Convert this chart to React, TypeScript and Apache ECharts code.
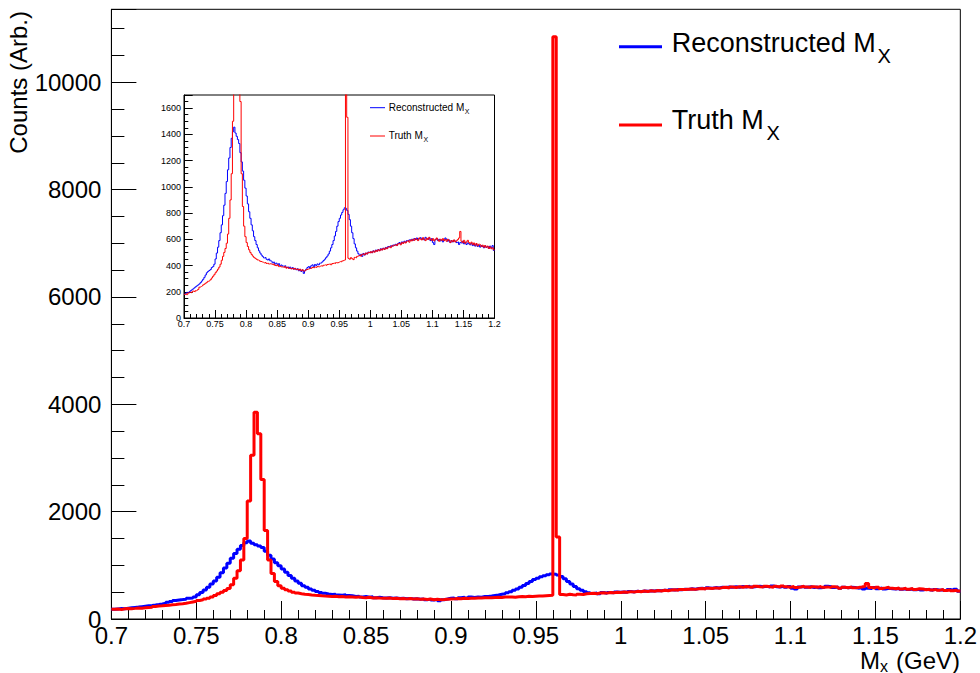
import React, { useEffect, useRef } from "react";
import * as echarts from "echarts";

// Histogram binning (GeV)
const BIN_START = 0.7;
const BIN_WIDTH = 0.002;

// Reconstructed M_X counts per bin (250 bins, 0.700 - 1.200 GeV)
const RECO: number[] = [
  180, 188, 195, 192, 200, 208, 215, 222, 230, 238,
  245, 252, 260, 270, 282, 295, 310, 328, 345, 355,
  362, 370, 385, 392, 410, 450, 495, 540, 590, 650,
  710, 780, 860, 950, 1040, 1130, 1220, 1300, 1370, 1420,
  1455, 1410, 1385, 1360, 1330, 1260, 1190, 1120, 1050, 990,
  930, 870, 810, 760, 710, 665, 620, 590, 560, 535,
  512, 495, 480, 468, 458, 462, 448, 442, 450, 436,
  432, 420, 426, 412, 418, 405, 414, 398, 404, 396,
  392, 398, 385, 390, 380, 388, 376, 384, 372, 378,
  368, 375, 360, 370, 355, 365, 340, 360, 372, 385,
  392, 378, 398, 405, 390, 408, 400, 412, 405, 418,
  420, 428, 438, 448, 460, 472, 488, 510, 535, 560,
  590, 625, 660, 700, 735, 760, 785, 805, 825, 840,
  835, 820, 790, 750, 700, 650, 605, 565, 535, 510,
  490, 475, 485, 470, 492, 480, 495, 488, 502, 498,
  505, 498, 512, 505, 518, 510, 522, 515, 528, 520,
  532, 525, 538, 530, 545, 540, 550, 546, 556, 552,
  562, 555, 568, 575, 565, 580, 572, 585, 578, 590,
  585, 595, 590, 600, 592, 605, 598, 610, 596, 605,
  612, 600, 608, 595, 615, 602, 598, 610, 590, 605,
  575, 560, 598, 605, 590, 600, 588, 595, 580, 592,
  610, 600, 585, 595, 575, 590, 580, 592, 585, 575,
  580, 560, 575, 570, 585, 565, 578, 560, 572, 565,
  558, 570, 552, 565, 548, 560, 545, 556, 540, 552,
  545, 535, 550, 538, 545, 530, 548, 535, 552, 515,
];

// Truth M_X counts per bin (250 bins, 0.700 - 1.200 GeV)
const TRUTH: number[] = [
  180, 185, 178, 190, 195, 192, 198, 205, 200, 208,
  212, 218, 235, 240, 245, 252, 258, 265, 272, 280,
  285, 292, 305, 318, 330, 345, 358, 372, 388, 410,
  440, 470, 500, 530, 570, 640, 760, 900, 1100, 1500,
  2200, 3050, 3850, 3450, 2600, 1650, 1100, 850, 700, 620,
  575, 545, 520, 500, 485, 472, 462, 455, 448, 442,
  438, 432, 428, 425, 420, 424, 416, 418, 412, 414,
  410, 405, 412, 400, 398, 405, 392, 396, 390, 388,
  385, 392, 380, 386, 378, 382, 375, 380, 372, 378,
  370, 374, 365, 372, 360, 368, 358, 362, 368, 372,
  375, 380, 378, 385, 382, 388, 385, 392, 390, 395,
  398, 395, 402, 405, 400, 408, 410, 412, 406, 415,
  418, 415, 422, 420, 425, 430, 428, 435, 440, 442,
  10850, 1530, 455, 448, 460, 452, 445, 462, 458, 470,
  475, 480, 472, 485, 490, 482, 495, 488, 500, 495,
  505, 498, 510, 502, 515, 508, 520, 512, 525, 518,
  530, 522, 535, 528, 540, 545, 536, 550, 548, 555,
  560, 552, 565, 570, 558, 575, 568, 580, 572, 585,
  590, 578, 595, 588, 600, 592, 605, 598, 590, 610,
  602, 595, 612, 600, 590, 608, 598, 615, 600, 592,
  605, 588, 598, 610, 595, 585, 600, 592, 605, 590,
  598, 585, 600, 592, 575, 590, 582, 595, 580, 588,
  598, 610, 660, 585, 575, 592, 570, 580, 592, 575,
  565, 578, 560, 572, 555, 568, 550, 562, 558, 545,
  555, 540, 552, 538, 548, 530, 542, 528, 535, 520,
];

const X_MIN = 0.7;
const X_MAX = 1.2;
const X_INTERVAL = 0.05;
const Y_MAIN_MAX = 11360;
const Y_MAIN_INTERVAL = 2000;
const Y_INSET_MAX = 1700;
const Y_INSET_INTERVAL = 200;

const LEGEND_RECO = "Reconstructed M";
const LEGEND_TRUTH = "Truth M";
const LEGEND_SUB = "X";

const FONT = "'Liberation Sans', Arial, Helvetica, sans-serif";

function toSteps(vals: number[]): number[][] {
  const pts: number[][] = vals.map((v, i) => [
    +(BIN_START + i * BIN_WIDTH).toFixed(4),
    v,
  ]);
  pts.push([+(BIN_START + vals.length * BIN_WIDTH).toFixed(4), vals[vals.length - 1]]);
  return pts;
}

const fmt = (v: number) => String(+(+v).toFixed(4));

export default function App() {
  const ref = useRef<HTMLDivElement>(null);
  useEffect(() => {
    if (!ref.current) return;
    const chart = echarts.init(ref.current, undefined, { renderer: "svg" });
    const black = "#000";
    const axisCommon = {
      axisLine: { show: true, lineStyle: { color: black, width: 1 } },
      splitLine: { show: false },
      minorSplitLine: { show: false },
    };
    const option: any = {
      animation: false,
      backgroundColor: "#fff",
      grid: [
        {
          left: 111.4,
          top: 9.3,
          right: 19.6,
          bottom: 54,
          show: true,
          borderColor: black,
          borderWidth: 1,
          backgroundColor: "transparent",
        },
        {
          left: 184,
          top: 95,
          right: 485.5,
          bottom: 355,
          show: true,
          borderColor: black,
          borderWidth: 1,
          backgroundColor: "#fff",
          z: 5,
        },
      ],
      xAxis: [
        {
          ...axisCommon,
          gridIndex: 0,
          type: "value",
          min: X_MIN,
          max: X_MAX,
          interval: X_INTERVAL,
          axisTick: { show: true, inside: true, length: 18, lineStyle: { color: black } },
          minorTick: { show: true, splitNumber: 5, length: 9, lineStyle: { color: black } },
          axisLabel: { margin: 4, fontSize: 24, color: black, fontFamily: FONT, formatter: fmt },
        },
        {
          ...axisCommon,
          gridIndex: 1,
          type: "value",
          min: X_MIN,
          max: X_MAX,
          interval: X_INTERVAL,
          z: 6,
          axisTick: { show: true, inside: true, length: 8, lineStyle: { color: black } },
          minorTick: { show: true, splitNumber: 5, length: 4, lineStyle: { color: black } },
          axisLabel: { margin: 1, fontSize: 9, color: black, fontFamily: FONT, formatter: fmt },
        },
      ],
      yAxis: [
        {
          ...axisCommon,
          gridIndex: 0,
          type: "value",
          min: 0,
          max: Y_MAIN_MAX,
          interval: Y_MAIN_INTERVAL,
          axisTick: { show: true, inside: true, length: 25, lineStyle: { color: black } },
          minorTick: { show: true, splitNumber: 4, length: 13, lineStyle: { color: black } },
          axisLabel: {
            margin: 10,
            fontSize: 24,
            color: black,
            fontFamily: FONT,
            showMaxLabel: false,
            formatter: fmt,
          },
        },
        {
          ...axisCommon,
          gridIndex: 1,
          type: "value",
          min: 0,
          max: Y_INSET_MAX,
          interval: Y_INSET_INTERVAL,
          z: 6,
          axisTick: { show: true, inside: true, length: 8.7, lineStyle: { color: black } },
          minorTick: { show: true, splitNumber: 4, length: 4.3, lineStyle: { color: black } },
          axisLabel: {
            margin: 3,
            fontSize: 9,
            color: black,
            fontFamily: FONT,
            showMaxLabel: false,
            formatter: fmt,
          },
        },
      ],
      series: [
        {
          name: "Reconstructed",
          type: "line",
          xAxisIndex: 0,
          yAxisIndex: 0,
          step: "end",
          showSymbol: false,
          symbol: "none",
          clip: true,
          lineStyle: { color: "#0000ff", width: 3 },
          data: toSteps(RECO),
        },
        {
          name: "Truth",
          type: "line",
          xAxisIndex: 0,
          yAxisIndex: 0,
          step: "end",
          showSymbol: false,
          symbol: "none",
          clip: true,
          lineStyle: { color: "#ff0000", width: 3 },
          data: toSteps(TRUTH),
        },
        {
          name: "Reconstructed inset",
          type: "line",
          xAxisIndex: 1,
          yAxisIndex: 1,
          step: "end",
          showSymbol: false,
          symbol: "none",
          clip: true,
          z: 7,
          lineStyle: { color: "#0000ff", width: 1 },
          data: toSteps(RECO),
        },
        {
          name: "Truth inset",
          type: "line",
          xAxisIndex: 1,
          yAxisIndex: 1,
          step: "end",
          showSymbol: false,
          symbol: "none",
          clip: true,
          z: 7,
          lineStyle: { color: "#ff0000", width: 1 },
          data: toSteps(TRUTH),
        },
      ],
      graphic: [
        // y-axis title
        {
          type: "text",
          x: 18.5,
          y: 11,
          rotation: Math.PI / 2,
          z: 20,
          style: {
            text: "Counts (Arb.)",
            font: `24px ${FONT}`,
            fill: black,
            textAlign: "right",
            textVerticalAlign: "middle",
          },
        },
        // x-axis title
        {
          type: "text",
          x: 860,
          y: 660,
          z: 20,
          style: { text: "M", font: `24px ${FONT}`, fill: black, textAlign: "left", textVerticalAlign: "middle" },
        },
        {
          type: "text",
          x: 880,
          y: 666,
          z: 20,
          style: { text: "x", font: `16px ${FONT}`, fill: black, textAlign: "left", textVerticalAlign: "middle" },
        },
        {
          type: "text",
          x: 960,
          y: 660,
          z: 20,
          style: { text: "(GeV)", font: `24px ${FONT}`, fill: black, textAlign: "right", textVerticalAlign: "middle" },
        },
        // main legend
        {
          type: "line",
          z: 20,
          shape: { x1: 619, y1: 46.7, x2: 662, y2: 46.7 },
          style: { stroke: "#0000ff", lineWidth: 3 },
        },
        {
          type: "text",
          x: 671.7,
          y: 43.3,
          z: 20,
          style: { text: LEGEND_RECO, font: `27px ${FONT}`, fill: black, textVerticalAlign: "middle" },
        },
        {
          type: "text",
          x: 877.5,
          y: 55.8,
          z: 20,
          style: { text: LEGEND_SUB, font: `20px ${FONT}`, fill: black, textVerticalAlign: "middle" },
        },
        {
          type: "line",
          z: 20,
          shape: { x1: 619, y1: 125, x2: 662, y2: 125 },
          style: { stroke: "#ff0000", lineWidth: 3 },
        },
        {
          type: "text",
          x: 671.7,
          y: 120,
          z: 20,
          style: { text: LEGEND_TRUTH, font: `27px ${FONT}`, fill: black, textVerticalAlign: "middle" },
        },
        {
          type: "text",
          x: 766.5,
          y: 132.5,
          z: 20,
          style: { text: LEGEND_SUB, font: `20px ${FONT}`, fill: black, textVerticalAlign: "middle" },
        },
        // inset legend
        {
          type: "line",
          z: 20,
          shape: { x1: 370, y1: 107.7, x2: 385, y2: 107.7 },
          style: { stroke: "#0000ff", lineWidth: 1 },
        },
        {
          type: "text",
          x: 388.7,
          y: 107.5,
          z: 20,
          style: { text: LEGEND_RECO, font: `10px ${FONT}`, fill: black, textVerticalAlign: "middle" },
        },
        {
          type: "text",
          x: 464.8,
          y: 111.8,
          z: 20,
          style: { text: LEGEND_SUB, font: `7px ${FONT}`, fill: black, textVerticalAlign: "middle" },
        },
        {
          type: "line",
          z: 20,
          shape: { x1: 370, y1: 136, x2: 385, y2: 136 },
          style: { stroke: "#ff0000", lineWidth: 1 },
        },
        {
          type: "text",
          x: 388.7,
          y: 135.5,
          z: 20,
          style: { text: LEGEND_TRUTH, font: `10px ${FONT}`, fill: black, textVerticalAlign: "middle" },
        },
        {
          type: "text",
          x: 423.5,
          y: 139.8,
          z: 20,
          style: { text: LEGEND_SUB, font: `7px ${FONT}`, fill: black, textVerticalAlign: "middle" },
        },
      ],
    };
    chart.setOption(option);
    return () => chart.dispose();
  }, []);
  return (
    <div
      ref={ref}
      style={{ position: "fixed", left: 0, top: 0, width: 980, height: 673, background: "#fff" }}
    />
  );
}
